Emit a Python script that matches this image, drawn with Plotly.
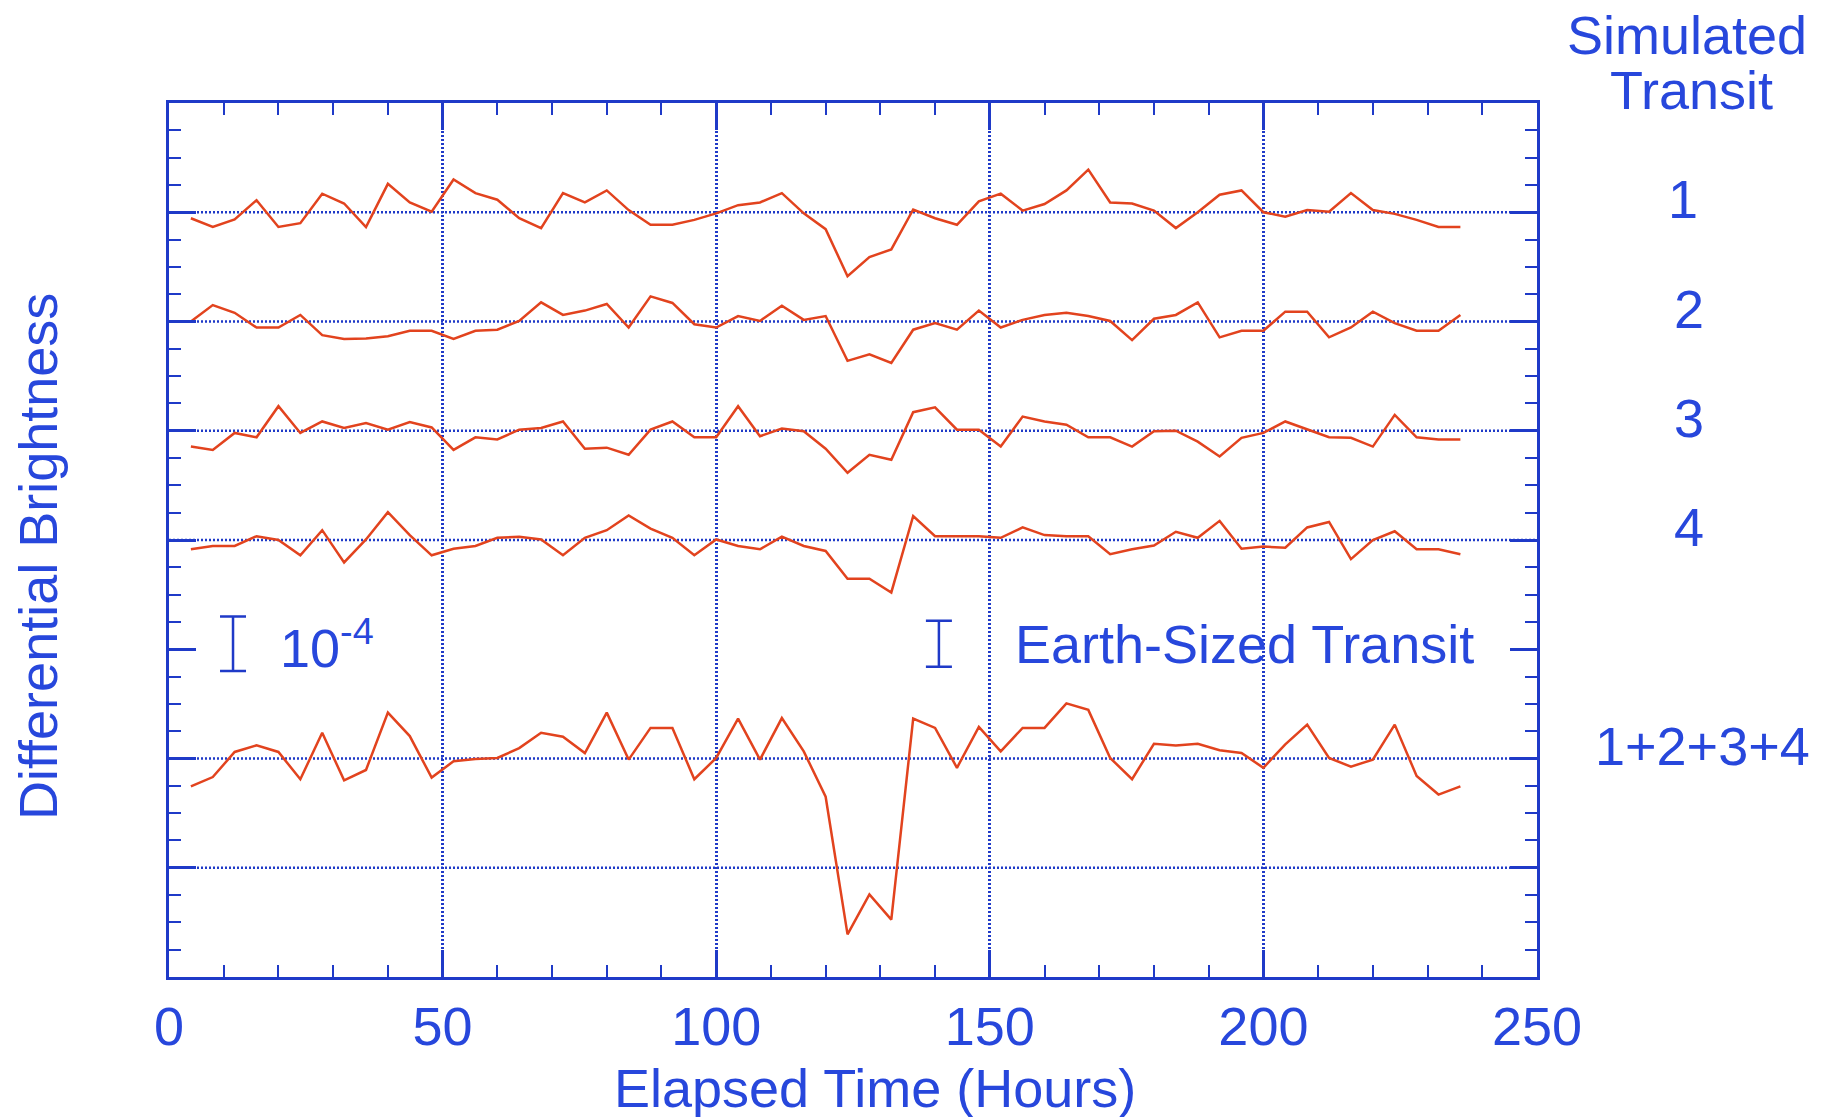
import plotly.graph_objects as go

# Elapsed time of each sample (hours)
hours = list(range(4, 240, 4))

# Differential brightness of each simulated transit, in units of 1e-4
transit_1 = [
    -0.11, -0.27, -0.13, 0.22, -0.27, -0.20, 0.34, 0.16, -0.27, 0.52,
    0.18, 0.01, 0.60, 0.35, 0.23, -0.11, -0.29, 0.35, 0.18, 0.40,
    0.04, -0.23, -0.23, -0.14, -0.02, 0.13, 0.18, 0.35, -0.02, -0.31,
    -1.17, -0.82, -0.68, 0.05, -0.11, -0.23, 0.20, 0.34, 0.03, 0.15,
    0.40, 0.78, 0.18, 0.16, 0.03, -0.29, 0.00, 0.32, 0.40, 0.00,
    -0.08, 0.04, 0.01, 0.35, 0.04, -0.03, -0.14, -0.27, -0.27,
]
transit_2 = [
    0.00, 0.30, 0.16, -0.11, -0.11, 0.12, -0.25, -0.32, -0.31, -0.27,
    -0.17, -0.17, -0.32, -0.17, -0.15, 0.01, 0.35, 0.12, 0.20, 0.32,
    -0.11, 0.46, 0.34, -0.05, -0.11, 0.10, 0.01, 0.29, 0.03, 0.10,
    -0.72, -0.60, -0.76, -0.15, -0.03, -0.15, 0.20, -0.11, 0.03, 0.12,
    0.16, 0.10, 0.01, -0.34, 0.05, 0.12, 0.35, -0.29, -0.17, -0.17,
    0.18, 0.18, -0.29, -0.11, 0.18, -0.03, -0.17, -0.17, 0.12,
]
transit_3 = [
    -0.29, -0.35, -0.04, -0.12, 0.45, -0.04, 0.17, 0.05, 0.14, 0.02,
    0.16, 0.06, -0.35, -0.12, -0.16, 0.02, 0.05, 0.17, -0.33, -0.31,
    -0.44, 0.02, 0.17, -0.12, -0.12, 0.45, -0.10, 0.04, -0.01, -0.33,
    -0.77, -0.44, -0.53, 0.34, 0.43, 0.02, 0.02, -0.29, 0.26, 0.17,
    0.11, -0.12, -0.12, -0.29, -0.01, 0.00, -0.20, -0.47, -0.13, -0.04,
    0.17, 0.02, -0.12, -0.13, -0.29, 0.29, -0.12, -0.16, -0.16,
]
transit_4 = [
    -0.17, -0.11, -0.11, 0.07, 0.00, -0.28, 0.18, -0.41, 0.01, 0.51,
    0.09, -0.28, -0.16, -0.11, 0.04, 0.06, 0.01, -0.28, 0.04, 0.18,
    0.45, 0.21, 0.04, -0.28, 0.01, -0.11, -0.17, 0.06, -0.11, -0.20,
    -0.71, -0.71, -0.96, 0.44, 0.07, 0.07, 0.07, 0.04, 0.23, 0.09,
    0.07, 0.07, -0.26, -0.17, -0.10, 0.15, 0.04, 0.35, -0.16, -0.12,
    -0.14, 0.23, 0.33, -0.35, 0.00, 0.16, -0.17, -0.17, -0.26,
]
transit_sum = [
    -0.51, -0.34, 0.12, 0.24, 0.12, -0.38, 0.47, -0.40, -0.21, 0.84,
    0.41, -0.35, -0.05, -0.01, 0.01, 0.19, 0.47, 0.40, 0.10, 0.84,
    -0.02, 0.56, 0.56, -0.38, 0.01, 0.73, -0.02, 0.74, 0.13, -0.70,
    -3.22, -2.49, -2.95, 0.73, 0.56, -0.17, 0.58, 0.13, 0.56, 0.56,
    1.01, 0.89, 0.01, -0.38, 0.27, 0.24, 0.27, 0.15, 0.10, -0.17,
    0.26, 0.62, 0.01, -0.15, -0.02, 0.62, -0.32, -0.66, -0.51,
]

series = [transit_1, transit_2, transit_3, transit_4, transit_sum]
series_labels = ["1", "2", "3", "4", "1+2+3+4"]
# vertical offset of each curve on the stacked plot (units of 1e-4)
offsets = [14, 12, 10, 8, 4]
# dotted reference levels
reference_levels = [14, 12, 10, 8, 4, 2]

# scale bars: 1e-4 and the depth of an Earth-sized transit (0.84e-4)
scale_bar_hours = [11.7, 140.7]
scale_bar_level = 6.1
scale_bar_sizes = [1.0, 0.84]
scale_bar_text = ["10<sup>-4</sup>", "Earth-Sized Transit"]
scale_text_hours = [19.9, 154.2]

AXIS_BLUE = "#1f3ac8"
TEXT_BLUE = "#2747dc"
CURVE_RED = "#e2431e"
FONT = "Liberation Sans, Arial, Helvetica, sans-serif"
FS = 54

fig = go.Figure()

for vals, off in zip(series, offsets):
    fig.add_trace(go.Scatter(
        x=hours, y=[off + v for v in vals], mode="lines",
        line=dict(color=CURVE_RED, width=2.5),
        showlegend=False, hoverinfo="skip",
    ))

for xh, size in zip(scale_bar_hours, scale_bar_sizes):
    fig.add_trace(go.Scatter(
        x=[xh], y=[scale_bar_level], mode="markers",
        marker=dict(size=1, color="rgba(0,0,0,0)"),
        error_y=dict(type="data", array=[size / 2], color=AXIS_BLUE,
                     thickness=2.5, width=13),
        showlegend=False, hoverinfo="skip",
    ))

for lvl in reference_levels:
    fig.add_shape(type="line", xref="paper", x0=0, x1=1, yref="y", y0=lvl, y1=lvl,
                  line=dict(color=AXIS_BLUE, width=2.5, dash="2px,2px"), layer="below")

annotations = []
for txt, xh in zip(scale_bar_text, scale_text_hours):
    annotations.append(dict(text=txt, x=xh, y=scale_bar_level, xref="x", yref="y",
                            xanchor="left", yanchor="middle", showarrow=False,
                            font=dict(size=FS, color=TEXT_BLUE, family=FONT)))

label_x = [1.1067, 1.111, 1.111, 1.111, 1.1213]
for txt, off, lx in zip(series_labels, offsets, label_x):
    annotations.append(dict(text=txt, x=lx, y=off, xref="paper", yref="y",
                            xanchor="center", yanchor="middle", yshift=13, showarrow=False,
                            font=dict(size=FS, color=TEXT_BLUE, family=FONT)))

annotations += [
    dict(text="Simulated", x=1.1096, y=1.0778, xref="paper", yref="paper",
         xanchor="center", yanchor="middle", showarrow=False,
         font=dict(size=FS, color=TEXT_BLUE, family=FONT)),
    dict(text="Transit", x=1.1126, y=1.0149, xref="paper", yref="paper",
         xanchor="center", yanchor="middle", showarrow=False,
         font=dict(size=FS, color=TEXT_BLUE, family=FONT)),
    dict(text="Elapsed Time (Hours)", x=0.516, y=-0.127, xref="paper", yref="paper",
         xanchor="center", yanchor="middle", showarrow=False,
         font=dict(size=FS, color=TEXT_BLUE, family=FONT)),
    dict(text="Differential Brightness", x=-0.0958, y=0.4817, xref="paper", yref="paper",
         xanchor="center", yanchor="middle", textangle=-90, showarrow=False,
         font=dict(size=FS, color=TEXT_BLUE, family=FONT)),
]

fig.update_layout(
    width=1829, height=1117,
    margin=dict(l=169, r=292, t=103, b=140),
    paper_bgcolor="white", plot_bgcolor="white",
    showlegend=False,
    annotations=annotations,
    xaxis=dict(
        range=[0, 250], dtick=50, tick0=0,
        ticks="inside", ticklen=27, tickwidth=2.5, tickcolor=AXIS_BLUE,
        minor=dict(dtick=10, ticks="inside", ticklen=12, tickwidth=2, tickcolor=AXIS_BLUE,
                   showgrid=False),
        showgrid=True, gridcolor=AXIS_BLUE, gridwidth=2.5, griddash="2px,2px",
        showline=True, linecolor=AXIS_BLUE, linewidth=2.5, mirror="allticks",
        zeroline=False,
        tickfont=dict(size=FS, color=TEXT_BLUE, family=FONT),
    ),
    yaxis=dict(
        range=[0, 16], dtick=2, tick0=0,
        ticks="inside", ticklen=27, tickwidth=2.5, tickcolor=AXIS_BLUE,
        minor=dict(dtick=0.5, ticks="inside", ticklen=12, tickwidth=2, tickcolor=AXIS_BLUE,
                   showgrid=False),
        showgrid=False, showticklabels=False,
        showline=True, linecolor=AXIS_BLUE, linewidth=2.5, mirror="allticks",
        zeroline=False,
    ),
)

fig.write_html("out.html")
